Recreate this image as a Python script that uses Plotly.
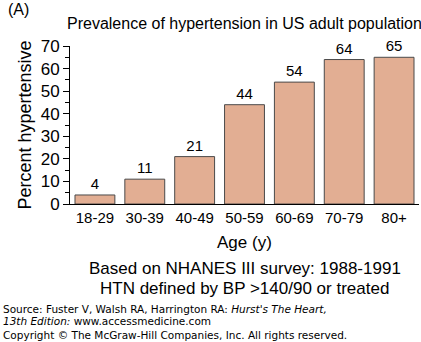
import plotly.graph_objects as go

categories = ["18-29", "30-39", "40-49", "50-59", "60-69", "70-79", "80+"]
values = [4, 11, 21, 44, 54, 64, 65]
y_ticks = [0, 10, 20, 30, 40, 50, 60, 70]

FONT = "Liberation Sans, Arial, sans-serif"

fig = go.Figure()
fig.add_trace(go.Bar(
    x=categories, y=values,
    marker=dict(color="#E2AE93", line=dict(color="#4a4a4a", width=1)),
    text=[str(v) for v in values], textposition="outside",
    textfont=dict(family=FONT, size=15, color="black"),
    cliponaxis=False,
))

fig.update_layout(
    width=421, height=342,
    margin=dict(l=70, r=2, t=46, b=138),
    paper_bgcolor="white", plot_bgcolor="white",
    bargap=0.2, showlegend=False,
    font=dict(family=FONT, color="black"),
)
fig.update_xaxes(
    showline=True, linecolor="black", linewidth=1,
    ticks="", tickfont=dict(size=15, family=FONT, color="black"),
    showgrid=False, zeroline=False,
)
fig.update_yaxes(
    range=[0, 70], showline=True, linecolor="black", linewidth=1,
    tickvals=y_ticks, ticks="outside", ticklen=6, tickcolor="black",
    tickfont=dict(size=17, family=FONT, color="black"),
    minor=dict(dtick=5, ticks="outside", ticklen=4, tickcolor="black", showgrid=False),
    showgrid=False, zeroline=False,
    title=dict(text="Percent hypertensive", font=dict(size=18, family=FONT), standoff=4),
)

ann = []
ann.append(dict(text="(A)", xref="paper", yref="paper", x=0, y=1, xshift=-64, yshift=37,
                xanchor="left", yanchor="middle", showarrow=False, font=dict(size=16)))
ann.append(dict(text="Prevalence of hypertension in US adult population", xref="paper", yref="paper",
                x=0.5, y=1, yshift=23, xanchor="center", yanchor="middle", showarrow=False,
                font=dict(size=16)))
ann.append(dict(text="Age (y)", xref="paper", yref="paper", x=0.5, y=0, yshift=-38,
                xanchor="center", yanchor="middle", showarrow=False, font=dict(size=17)))
ann.append(dict(text="Based on NHANES III survey: 1988-1991",
                xref="paper", yref="paper", x=0.5, y=0, yshift=-64,
                xanchor="center", yanchor="middle", showarrow=False, font=dict(size=17)))
ann.append(dict(text="HTN defined by BP >140/90 or treated",
                xref="paper", yref="paper", x=0.5, y=0, yshift=-84,
                xanchor="center", yanchor="middle", showarrow=False, font=dict(size=17)))
SRC = "DejaVu Sans, Verdana, sans-serif"
ann.append(dict(text="Source: Fuster V, Walsh RA, Harrington RA: <i>Hurst's The Heart,</i>",
                xref="paper", yref="paper", x=0, y=0, xshift=-69, yshift=-105,
                xanchor="left", yanchor="middle", showarrow=False, font=dict(size=10.5, family=SRC)))
ann.append(dict(text="<i>13th Edition:</i> www.accessmedicine.com",
                xref="paper", yref="paper", x=0, y=0, xshift=-69, yshift=-117,
                xanchor="left", yanchor="middle", showarrow=False, font=dict(size=10.5, family=SRC)))
ann.append(dict(text="Copyright © The McGraw-Hill Companies, Inc. All rights reserved.",
                xref="paper", yref="paper", x=0, y=0, xshift=-69, yshift=-131,
                xanchor="left", yanchor="middle", showarrow=False, font=dict(size=10.5, family=SRC)))
fig.update_layout(annotations=ann)

fig.write_html("out.html")
